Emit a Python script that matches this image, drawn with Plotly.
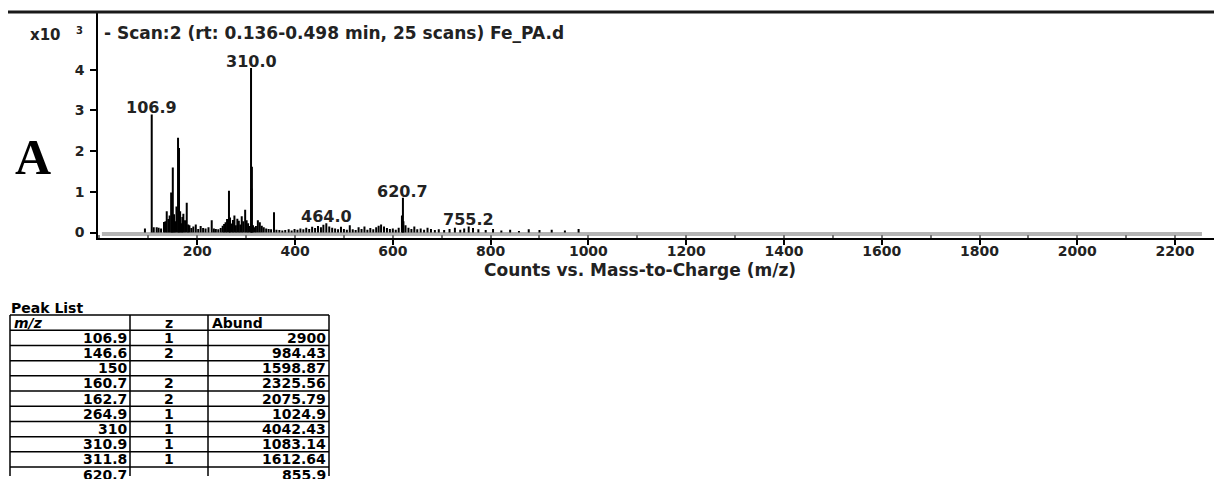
import plotly.graph_objects as go

# ---------------- data ----------------
peak_mz = [93, 106.9, 111, 117, 121, 126, 132, 135, 137.6, 141, 143.5, 146.6, 148.5, 150, 152.5, 155,
           157.5, 160.7, 162.7, 165, 167.5, 169.5, 171.6, 175, 178.5, 181.5, 184, 188, 192, 197, 202,
           207, 212, 217, 223, 229.6, 234, 238, 243, 248, 252, 255, 258, 261, 264.9, 267, 270, 273,
           276, 279, 282, 285, 288, 291, 294, 298, 301, 304, 307, 310.0, 310.9, 311.8, 314, 317, 320,
           324, 328, 332, 336, 341, 346, 351, 357, 362, 368, 374]
peak_ab = [100, 2900, 130, 130, 120, 100, 260, 280, 520, 330, 420, 984.43, 620, 1598.87, 450, 280,
           640, 2325.56, 2075.79, 520, 230, 380, 460, 300, 730, 200, 180, 110, 150, 200, 90,
           160, 110, 100, 130, 300, 100, 90, 80, 110, 170, 210, 250, 330, 1024.9, 370, 220, 310,
           420, 180, 340, 290, 200, 400, 280, 560, 300, 230, 160, 4042.43, 1083.14, 1612.64, 180, 130, 160,
           300, 250, 170, 130, 100, 90, 80, 500, 70, 60, 50]

mid_mz = [380, 387, 393, 399, 405, 411, 417, 423, 429, 435, 441, 447, 453, 458, 464.0, 470, 476, 482,
          488, 494, 500, 506, 512, 518, 524, 530, 536, 542, 548, 554, 560, 566, 571, 576, 582, 588,
          594, 600, 606, 612, 618.7, 620.7, 621.7, 626, 632, 638, 644, 650, 657, 664, 671, 678, 686, 694]
mid_ab = [60, 80, 50, 90, 70, 100, 80, 120, 90, 140, 110, 160, 130, 190, 230, 150, 120, 100,
          80, 140, 90, 70, 180, 80, 60, 130, 90, 150, 70, 110, 80, 130, 170, 200, 150, 110,
          90, 100, 70, 120, 420, 855.9, 280, 180, 120, 90, 150, 80, 100, 70, 120, 90, 60, 80]

high_mz = [705, 716, 727, 738, 746, 755.2, 764, 775, 790, 805, 822, 840, 858, 878, 900, 925, 952, 980]
high_ab = [60, 90, 120, 70, 100, 150, 110, 80, 60, 90, 50, 70, 40, 80, 60, 70, 50, 90]

labeled_mz = [106.9, 310.0, 464.0, 620.7, 755.2]
labeled_ab = [2900, 4042.43, 230, 855.9, 150]
labeled_text = ["106.9", "310.0", "464.0", "620.7", "755.2"]

baseline_mz = [5, 2255]
baseline_ab = [-35, -35]

x_ticks = [200, 400, 600, 800, 1000, 1200, 1400, 1600, 1800, 2000, 2200]
y_ticks = [0, 1000, 2000, 3000, 4000]
y_ticktext = ["0", "1", "2", "3", "4"]

table_header = ["<i>m/z</i>", "z", "Abund"]
table_mz = ["106.9", "146.6", "150", "160.7", "162.7", "264.9", "310", "310.9", "311.8", "620.7"]
table_z = ["1", "2", "", "2", "2", "1", "1", "1", "1", ""]
table_ab = ["2900", "984.43", "1598.87", "2325.56", "2075.79", "1024.9", "4042.43", "1083.14", "1612.64", "855.9"]

# ---------------- figure ----------------
# page body adds an 8px margin; compensate so the picture lands on the window
OFF = 8
W, H = 1222 - OFF, 479 - OFF


def px_x(p):
    return (p - OFF) / W


def px_y(p):
    return 1 - (p - OFF) / H


all_mz = peak_mz + mid_mz + high_mz
all_ab = peak_ab + mid_ab + high_ab
xs, ys = [], []
for m, a in zip(all_mz, all_ab):
    xs += [m, m, None]
    ys += [0, a, None]

FONT = "DejaVu Sans"
TXT = "#222222"

fig = go.Figure()
fig.add_trace(go.Scatter(x=baseline_mz, y=baseline_ab, mode="lines",
                         line=dict(color="#b4b4b4", width=4), hoverinfo="skip", showlegend=False))
fig.add_trace(go.Scatter(x=xs, y=ys, mode="lines", line=dict(color="black", width=2),
                         hoverinfo="skip", showlegend=False))

for m, a, t in zip(labeled_mz, labeled_ab, labeled_text):
    fig.add_annotation(x=m, y=a, text=t, showarrow=False, yanchor="bottom", yshift=-5,
                       font=dict(family=FONT, size=16, color=TXT, weight="bold"))

# texts
fig.add_annotation(xref="paper", yref="paper", x=px_x(102), y=px_y(33), xanchor="left", yanchor="middle",
                   text="- Scan:2 (rt: 0.136-0.498 min, 25 scans) Fe_PA.d", showarrow=False,
                   font=dict(family=FONT, size=17, color=TXT, weight="bold"))
fig.add_annotation(xref="paper", yref="paper", x=px_x(45), y=px_y(35), xanchor="center", yanchor="middle",
                   text="x10", showarrow=False, font=dict(family=FONT, size=15, color=TXT, weight="bold"))
fig.add_annotation(xref="paper", yref="paper", x=px_x(79), y=px_y(31), xanchor="center", yanchor="middle",
                   text="3", showarrow=False, font=dict(family=FONT, size=10, color=TXT, weight="bold"))
fig.add_annotation(xref="paper", yref="paper", x=px_x(33), y=px_y(158), xanchor="center", yanchor="middle",
                   text="A", showarrow=False, font=dict(family="Liberation Serif", size=50, color="black", weight="bold"))
fig.add_annotation(xref="paper", yref="paper", x=px_x(640), y=px_y(272), xanchor="center", yanchor="middle",
                   text="Counts vs. Mass-to-Charge (m/z)", showarrow=False,
                   font=dict(family=FONT, size=17, color=TXT, weight="bold"))
fig.add_annotation(xref="paper", yref="paper", x=px_x(9), y=px_y(310), xanchor="left", yanchor="middle",
                   text="Peak List", showarrow=False, font=dict(family=FONT, size=14, color="black", weight="bold"))

fig.add_shape(type="line", xref="paper", yref="paper", x0=px_x(8), x1=1, y0=px_y(12), y1=px_y(12),
              line=dict(color="#1a1a1a", width=3))

# ---- peak list table (drawn from the arrays) ----
col_edges = [10, 130, 208, 329]
row_top, row_h = 317, 15.3
n_rows = len(table_mz) + 1
tline = dict(color="black", width=1.5)
for k in range(n_rows + 1):
    yk = row_top + k * row_h
    if yk > 479:
        break
    fig.add_shape(type="line", xref="paper", yref="paper", x0=px_x(col_edges[0]), x1=px_x(col_edges[-1]),
                  y0=px_y(yk), y1=px_y(yk), line=tline)
for xe in col_edges:
    fig.add_shape(type="line", xref="paper", yref="paper", x0=px_x(xe), x1=px_x(xe),
                  y0=px_y(row_top), y1=px_y(479), line=tline)

tfont = dict(family=FONT, size=14, color="black", weight="bold")
hy = row_top + row_h / 2
fig.add_annotation(xref="paper", yref="paper", x=px_x(col_edges[0] + 2), y=px_y(hy), xanchor="left",
                   yanchor="middle", text=table_header[0], showarrow=False, font=tfont)
fig.add_annotation(xref="paper", yref="paper", x=px_x((col_edges[1] + col_edges[2]) / 2), y=px_y(hy),
                   xanchor="center", yanchor="middle", text=table_header[1], showarrow=False, font=tfont)
fig.add_annotation(xref="paper", yref="paper", x=px_x(col_edges[2] + 2), y=px_y(hy), xanchor="left",
                   yanchor="middle", text=table_header[2], showarrow=False, font=tfont)
for i, (m, z, a) in enumerate(zip(table_mz, table_z, table_ab)):
    cy = row_top + (i + 1) * row_h + row_h / 2
    fig.add_annotation(xref="paper", yref="paper", x=px_x(col_edges[1] - 1), y=px_y(cy), xanchor="right",
                       yanchor="middle", text=m, showarrow=False, font=tfont)
    if z:
        fig.add_annotation(xref="paper", yref="paper", x=px_x((col_edges[1] + col_edges[2]) / 2), y=px_y(cy),
                           xanchor="center", yanchor="middle", text=z, showarrow=False, font=tfont)
    fig.add_annotation(xref="paper", yref="paper", x=px_x(col_edges[3] - 1), y=px_y(cy), xanchor="right",
                       yanchor="middle", text=a, showarrow=False, font=tfont)

fig.update_layout(
    width=W, height=H, margin=dict(l=0, r=0, t=0, b=0),
    paper_bgcolor="white", plot_bgcolor="white", showlegend=False,
    xaxis=dict(domain=[px_x(98), 1], range=[-3, 2296], showline=True, linecolor="black", linewidth=2,
               ticks="outside", ticklen=5, tickwidth=1.5, tickcolor="black", tickvals=x_ticks,
               tickfont=dict(family=FONT, size=14, color=TXT, weight="bold"), ticklabelstandoff=-5,
               showgrid=False, zeroline=False,
               minor=dict(ticks="inside", ticklen=3, dtick=100, tickcolor="#777", showgrid=False)),
    yaxis=dict(domain=[px_y(239), px_y(12)], range=[-122, 5415], showline=True, linecolor="black",
               linewidth=1.5, ticks="outside", ticklen=6, tickwidth=1.5, tickcolor="black",
               tickvals=y_ticks, ticktext=y_ticktext, ticklabelstandoff=3,
               tickfont=dict(family=FONT, size=14, color=TXT, weight="bold"),
               showgrid=False, zeroline=False),
)

fig.write_html("out.html")
